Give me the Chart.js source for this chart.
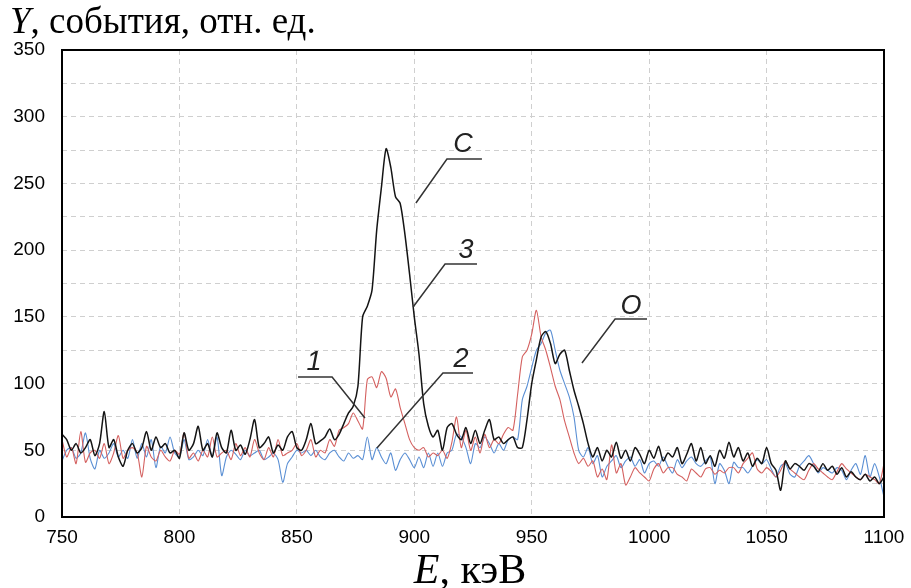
<!DOCTYPE html>
<html lang="ru">
<head>
<meta charset="utf-8">
<title>Спектр Y(E)</title>
<script src="https://cdn.jsdelivr.net/npm/chart.js@4.4.1/dist/chart.umd.min.js"></script>
<style>
  html, body { margin: 0; padding: 0; background: #fff; }
  #wrap { position: relative; width: 911px; height: 588px; }
  #myChart { position: absolute; left: 0; top: 0; }
  .axis-title {
    position: absolute;
    font-family: "Liberation Serif", "DejaVu Serif", serif;
    color: #000;
    white-space: nowrap;
    line-height: 1;
  }
  #yTitle { left: 10px; top: 2px; font-size: 37px; }
  #xTitle { left: 0; width: 940px; text-align: center; top: 548px; font-size: 42px; }
</style>
</head>
<body>
<div id="wrap">
  <canvas id="myChart" width="911" height="588"></canvas>
  <div class="axis-title" id="yTitle"><i>Y</i>, события, отн. ед.</div>
  <div class="axis-title" id="xTitle"><i>E</i>, кэВ</div>
</div>
<script>
/* энергия, кэВ: шаг 2 кэВ от 750 до 1100 */
const E_START = 750;
const E_STEP = 2;

// кривая 3 (C) — чёрная
const curveC = [
  62, 58, 50, 55, 48, 52, 58, 46, 55, 79,          // 750
  52, 58, 45, 38, 50, 55, 48, 52, 64, 50,          // 770
  60, 52, 55, 48, 50, 44, 63, 50, 55, 68,          // 790
  50, 55, 45, 63, 52, 48, 65, 50, 54, 47,          // 810
  58, 73, 52, 55, 60, 48, 54, 50, 60, 64,          // 830
  52, 50, 58, 70, 55, 57, 60, 66, 58, 62,          // 850
  70, 78, 83, 98, 150, 158, 170, 215, 247, 276,    // 870
  262, 240, 235, 212, 182, 150, 122, 85, 68, 60,   // 890
  65, 50, 67, 70, 62, 58, 67, 55, 65, 55,          // 910
  65, 73, 58, 60, 55, 58, 60, 52, 52, 73,          // 930
  100, 118, 135, 139, 130, 115, 122, 125, 110, 95, // 950
  83, 70, 55, 45, 52, 42, 50, 45, 56, 44,          // 970
  50, 42, 52, 47, 40, 50, 44, 53, 42, 48,          // 990
  45, 52, 40, 47, 55, 42, 52, 40, 46, 38,          // 1010
  50, 44, 56, 45, 52, 42, 48, 38, 44, 40,          // 1030
  52, 40, 35, 20, 42, 36, 40, 38, 35, 40,          // 1050
  38, 34, 40, 35, 38, 32, 37, 30, 34, 30,          // 1070
  28, 32, 27, 30, 25, 30                           // 1090
];

// кривая 1 — красная
const curve1 = [
  58, 45, 52, 40, 64, 41, 48, 50, 44, 55,
  40, 48, 61, 44, 50, 52, 48, 30, 53, 45,
  42, 50, 45, 42, 50, 47, 63, 44, 48, 42,
  50, 45, 60, 45, 48, 50, 43, 55, 46, 52,
  45, 58, 48, 43, 52, 45, 58, 46, 48, 50,
  55, 46, 50, 58, 45, 50, 48, 58, 53, 65,
  67, 70, 78, 72, 66, 103, 105, 97, 109, 104,
  90, 96, 82, 70, 58, 52, 50, 52, 45, 48,
  46, 50, 44, 56, 75, 52, 65, 50, 60, 48,
  62, 52, 58, 55, 62, 67, 65, 92, 120, 125,
  137, 155, 135, 125, 112, 98, 88, 72, 60, 48,
  40, 44, 38, 42, 30, 36, 28, 54, 33, 40,
  24, 30, 37, 33, 30, 27, 36, 40, 33, 37,
  37, 32, 30, 27, 36, 33, 30, 36, 37, 32,
  35, 33, 37, 37, 33, 40, 44, 48, 36, 33,
  37, 34, 30, 35, 42, 36, 33, 30, 28, 35,
  40, 36, 33, 30, 28, 34, 40, 36, 33, 30,
  28, 32, 30, 28, 25, 40
];

// кривая 2 — синяя
const curve2 = [
  42, 50, 52, 44, 48, 63, 44, 36, 50, 44,
  48, 55, 45, 50, 44, 58, 44, 55, 45, 58,
  37, 53, 48, 60, 48, 45, 58, 43, 45, 50,
  46, 58, 45, 60, 31, 45, 50, 47, 43, 50,
  46, 48, 50, 43, 45, 48, 43, 26, 40, 45,
  50, 48, 50, 46, 50, 45, 43, 48, 50, 45,
  42, 48, 44, 46, 43, 60, 43, 52, 45, 40,
  48, 35, 43, 48, 43, 37, 45, 37, 48, 38,
  48, 38, 48, 50, 62, 60, 52, 40, 55, 52,
  60, 55, 48, 55, 50, 58, 60, 58, 88, 98,
  112, 125, 130, 138, 140, 125, 110, 100, 90, 75,
  50, 45, 52, 40, 46, 30, 38, 42, 46, 37,
  42, 45, 38, 43, 33, 40, 42, 38, 45, 38,
  33, 43, 37, 42, 45, 40, 38, 42, 45, 25,
  40, 35, 25, 41, 37, 37, 33, 38, 43, 40,
  43, 36, 30, 38, 40, 32, 30, 38, 42, 46,
  40, 33, 37, 35, 33, 37, 35, 28, 35, 40,
  32, 46, 30, 40, 30, 15
];

const X_TICKS = [750, 800, 850, 900, 950, 1000, 1050, 1100];
const Y_TICKS = [0, 50, 100, 150, 200, 250, 300, 350];

// выноски: подпись + ломаная (в единицах осей)
const CALLOUTS = [
  { text: "C", at: [920.7, 279], line: [[928.8, 268.3], [913.9, 268.3], [900.7, 235.3]] },
  { text: "3", at: [922.0, 200], line: [[926.7, 189.6], [913.1, 189.6], [899.5, 157.4]] },
  { text: "O", at: [992.3, 158], line: [[999.1, 148.4], [985.5, 148.4], [971.4, 115.4]] },
  { text: "1", at: [857.3, 116], line: [[850.5, 104.9], [865.0, 104.9], [879.0, 74.2]] },
  { text: "2", at: [919.9, 118], line: [[925.0, 107.9], [912.2, 107.9], [884.1, 51.7]] },
];

const toPoints = (arr) => arr.map((y, i) => ({ x: E_START + i * E_STEP, y }));

const frameAndCallouts = {
  id: "frameAndCallouts",
  afterDatasetsDraw(chart) {
    const { ctx, chartArea: a, scales: { x, y } } = chart;
    ctx.save();
    // выноски
    ctx.strokeStyle = "#333";
    ctx.lineWidth = 1.5;
    ctx.fillStyle = "#222";
    ctx.font = "italic 27px 'Liberation Sans', Arial, sans-serif";
    ctx.textAlign = "center";
    ctx.textBaseline = "middle";
    CALLOUTS.forEach((c) => {
      ctx.beginPath();
      c.line.forEach(([ex, ey], i) => {
        const px = x.getPixelForValue(ex);
        const py = y.getPixelForValue(ey);
        i ? ctx.lineTo(px, py) : ctx.moveTo(px, py);
      });
      ctx.stroke();
      ctx.fillText(c.text, x.getPixelForValue(c.at[0]), y.getPixelForValue(c.at[1]));
    });
    // рамка
    ctx.strokeStyle = "#000";
    ctx.lineWidth = 2;
    ctx.strokeRect(a.left, a.top, a.right - a.left, a.bottom - a.top);
    ctx.restore();
  },
};

const tickFont = { family: "'Liberation Sans', Arial, sans-serif", size: 19 };

const chartConfig = {
  type: "line",
  data: {
    datasets: [
      { label: "C", data: toPoints(curveC), borderColor: "#141414", borderWidth: 1.5 },
      { label: "1", data: toPoints(curve1), borderColor: "#d4605f", borderWidth: 1.1 },
      { label: "2", data: toPoints(curve2), borderColor: "#5a8fd4", borderWidth: 1.1 },
    ],
  },
  options: {
    responsive: false,
    animation: false,
    layout: { padding: { top: 50, right: 0, bottom: 0, left: 0 } },
    elements: {
      point: { radius: 0 },
      line: { tension: 0.25, fill: false },
    },
    plugins: { legend: { display: false }, tooltip: { enabled: false } },
    scales: {
      x: {
        type: "linear",
        min: 750,
        max: 1100,
        afterBuildTicks: (s) => { s.ticks = X_TICKS.map((v) => ({ value: v })); },
        afterFit: (s) => { s.height = 71; s.paddingLeft = 0; s.paddingRight = 27; },
        ticks: { color: "#000", font: tickFont, padding: 9, maxRotation: 0, callback: (v) => String(v) },
        grid: { color: "#cfcfcf", lineWidth: 1, drawTicks: false },
        border: { display: false, dash: [5, 4] },
      },
      y: {
        min: 0,
        max: 350,
        ticks: {
          stepSize: 25,
          color: "#000",
          font: tickFont,
          padding: 17,
          callback: (v) => (Y_TICKS.includes(v) ? String(v) : ""),
        },
        afterFit: (s) => { s.width = 62; },
        grid: { color: "#cfcfcf", lineWidth: 1, drawTicks: false },
        border: { display: false, dash: [5, 4] },
      },
    },
  },
  plugins: [frameAndCallouts],
};

new Chart(document.getElementById("myChart"), chartConfig);
</script>
</body>
</html>
